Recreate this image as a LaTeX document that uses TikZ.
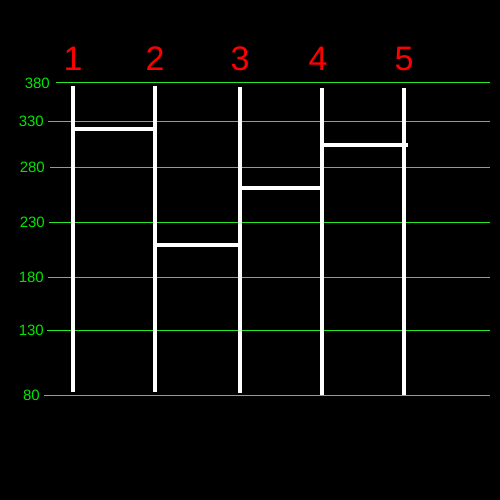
\documentclass[tikz,border=0pt]{standalone}
\usepackage{fontspec}
\setmainfont{Liberation Sans}
\begin{document}
\begin{tikzpicture}[x=1pt,y=-1pt,
  grid/.style={draw={rgb,255:red,40;green,230;blue,40}, line width=1pt},
  ylab/.style={text={rgb,255:red,0;green,230;blue,0}, font=\fontsize{15}{15}\selectfont, anchor=east, inner sep=0pt},
  num/.style={text=red, font=\fontsize{34}{34}\selectfont, inner sep=0pt},
  bar/.style={draw=white, line width=4.5pt},
  rung/.style={draw=white, line width=4pt}]
\fill[black] (0,0) rectangle (500,500);
\useasboundingbox (0,0) rectangle (500,500);
% axis labels and grid lines
\foreach \v/\y/\xs/\xe in {380/83/50/56, 330/121/44/48, 280/167/45/50, 230/222/45/49, 180/277/44/48, 130/330/44/47, 80/395/40/44}{
  \node[ylab] (l\v) at (\xs,\y) {\v};
  \draw[grid] (\xe,\y) -- (490,\y);
}
% numbers
\foreach \i/\x in {1/73, 2/155, 3/240, 4/318, 5/404}{
  \node[num] (n\i) at (\x,59) {\i};
}
% bars
\foreach \i/\x/\t/\b in {1/73/86/392, 2/155/86/392, 3/240/87/393, 4/322/88/395, 5/404/88/395}{
  \coordinate (t\i) at (\x,\t);
  \coordinate (b\i) at (\x,\b);
  \draw[bar] (t\i) -- (b\i);
}
% rungs
\coordinate (r1a) at (73,129); \coordinate (r1b) at (155,129);
\coordinate (r2a) at (155,245); \coordinate (r2b) at (240,245);
\coordinate (r3a) at (240,188); \coordinate (r3b) at (322,188);
\coordinate (r4a) at (322,145); \coordinate (r4b) at (408,145);
\draw[rung] (r1a) -- (r1b);
\draw[rung] (r2a) -- (r2b);
\draw[rung] (r3a) -- (r3b);
\draw[rung] (r4a) -- (r4b);
\end{tikzpicture}
\end{document}
